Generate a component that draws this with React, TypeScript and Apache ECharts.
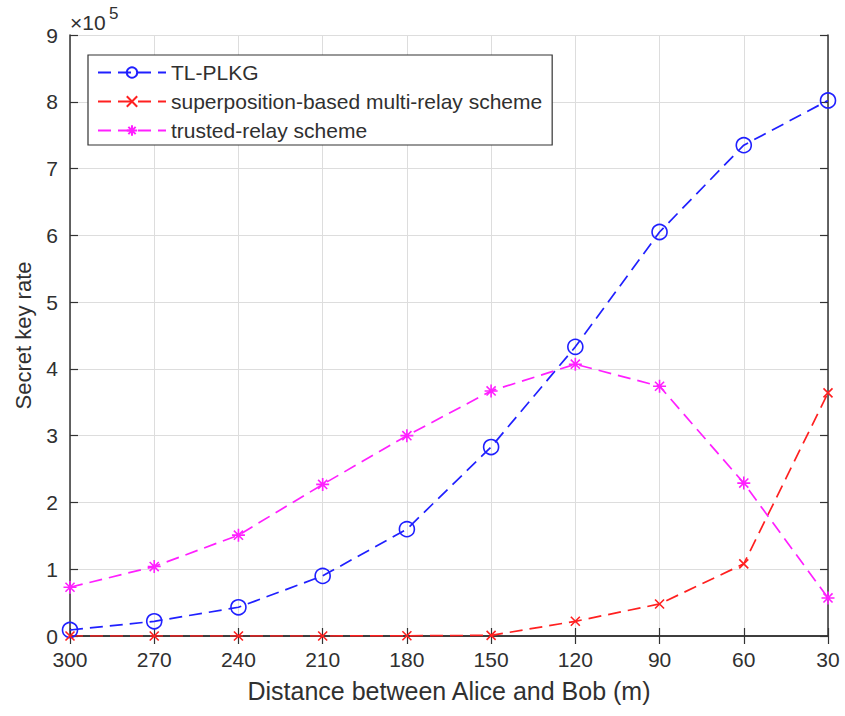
import React, { useEffect, useRef } from "react";
import * as echarts from "echarts";

const distances = ["300", "270", "240", "210", "180", "150", "120", "90", "60", "30"];
const tlPlkg = [0.09, 0.22, 0.43, 0.9, 1.6, 2.83, 4.33, 6.05, 7.35, 8.02];
const superposition = [0.0, 0.0, 0.0, 0.0, 0.003, 0.01, 0.22, 0.48, 1.08, 3.64];
const trustedRelay = [0.73, 1.04, 1.51, 2.27, 3.0, 3.67, 4.07, 3.74, 2.29, 0.57];
const seriesNames = ["TL-PLKG", "superposition-based multi-relay scheme", "trusted-relay scheme"];

const FONT = "'Liberation Sans', Arial, Helvetica, sans-serif";
const TEXT = "#303030";
const AXIS = "#333333";
const GRID = "#dddddd";

const X_PATH = "path://M0,0 L10,10 M10,0 L0,10";
const STAR_PATH = "path://M5,0 L5,10 M0,5 L10,5 M1.5,1.5 L8.5,8.5 M8.5,1.5 L1.5,8.5";

export default function App() {
  const ref = useRef<HTMLDivElement>(null);
  useEffect(() => {
    if (!ref.current) return;
    const chart = echarts.init(ref.current, null, { renderer: "svg" });
    const dash = [13, 7];
    const mk = (name: string, data: number[], color: string, symbol: string, size: number, fill: string) => ({
      name,
      type: "line",
      data,
      smooth: false,
      symbol,
      symbolSize: size,
      showAllSymbol: true,
      lineStyle: { color, width: 1.7, type: dash },
      itemStyle: { color: fill, borderColor: color, borderWidth: 1.6 },
      z: 3,
    });
    chart.setOption({
      animation: false,
      backgroundColor: "#ffffff",
      textStyle: { fontFamily: FONT },
      grid: { left: 70, right: 17, top: 35, bottom: 80, containLabel: false },
      legend: {
        left: 88,
        top: 55,
        orient: "vertical",
        backgroundColor: "#ffffff",
        borderColor: AXIS,
        borderWidth: 1.2,
        padding: [7, 10, 4, 9],
        itemGap: 8,
        itemWidth: 68,
        itemHeight: 13,
        textStyle: { fontFamily: FONT, fontSize: 21, lineHeight: 21, color: TEXT },
        data: seriesNames,
      },
      xAxis: [
        {
          type: "category",
          data: distances,
          boundaryGap: false,
          name: "Distance between Alice and Bob (m)",
          nameLocation: "middle",
          nameGap: 42,
          nameTextStyle: { fontFamily: FONT, fontSize: 25, color: TEXT },
          axisLine: { show: true, lineStyle: { color: AXIS, width: 1.5 } },
          axisTick: { show: true, inside: true, length: 8, alignWithLabel: true, lineStyle: { color: AXIS, width: 1.2 } },
          axisLabel: { fontFamily: FONT, fontSize: 21, color: TEXT, margin: 13 },
          splitLine: { show: true, lineStyle: { color: GRID, width: 1 } },
        },
        {
          type: "category",
          data: distances,
          boundaryGap: false,
          position: "top",
          axisLine: { show: true, lineStyle: { color: AXIS, width: 1.5 } },
          axisTick: { show: true, inside: true, length: 8, lineStyle: { color: AXIS, width: 1.2 } },
          axisLabel: { show: false },
          splitLine: { show: false },
        },
      ],
      yAxis: [
        {
          type: "value",
          min: 0,
          max: 9,
          interval: 1,
          name: "Secret key rate",
          nameLocation: "middle",
          nameGap: 36,
          nameRotate: 90,
          nameTextStyle: { fontFamily: FONT, fontSize: 22, color: TEXT },
          axisLine: { show: true, lineStyle: { color: AXIS, width: 1.5 } },
          axisTick: { show: true, inside: true, length: 8, lineStyle: { color: AXIS, width: 1.2 } },
          axisLabel: { fontFamily: FONT, fontSize: 21, color: TEXT, margin: 12 },
          splitLine: { show: true, lineStyle: { color: GRID, width: 1 } },
        },
        {
          type: "value",
          min: 0,
          max: 9,
          interval: 1,
          position: "right",
          axisLine: { show: true, lineStyle: { color: AXIS, width: 1.5 } },
          axisTick: { show: true, inside: true, length: 8, lineStyle: { color: AXIS, width: 1.2 } },
          axisLabel: { show: false },
          splitLine: { show: false },
        },
      ],
      graphic: [
        {
          type: "text",
          left: 70,
          top: 12,
          style: { text: "×10", fontFamily: FONT, fontSize: 21, fill: TEXT },
        },
        {
          type: "text",
          left: 109,
          top: 5,
          style: { text: "5", fontFamily: FONT, fontSize: 17, fill: TEXT },
        },
      ],
      series: [
        mk(seriesNames[0], tlPlkg, "#2020ff", "circle", 15, "rgba(0,0,0,0)"),
        mk(seriesNames[1], superposition, "#ff2020", X_PATH, 9, "#ff2020"),
        mk(seriesNames[2], trustedRelay, "#ff20ff", STAR_PATH, 13, "#ff20ff"),
      ],
    });
    return () => chart.dispose();
  }, []);
  return (
    <div
      ref={ref}
      style={{ position: "absolute", left: 0, top: 0, width: 845, height: 716 }}
    />
  );
}
